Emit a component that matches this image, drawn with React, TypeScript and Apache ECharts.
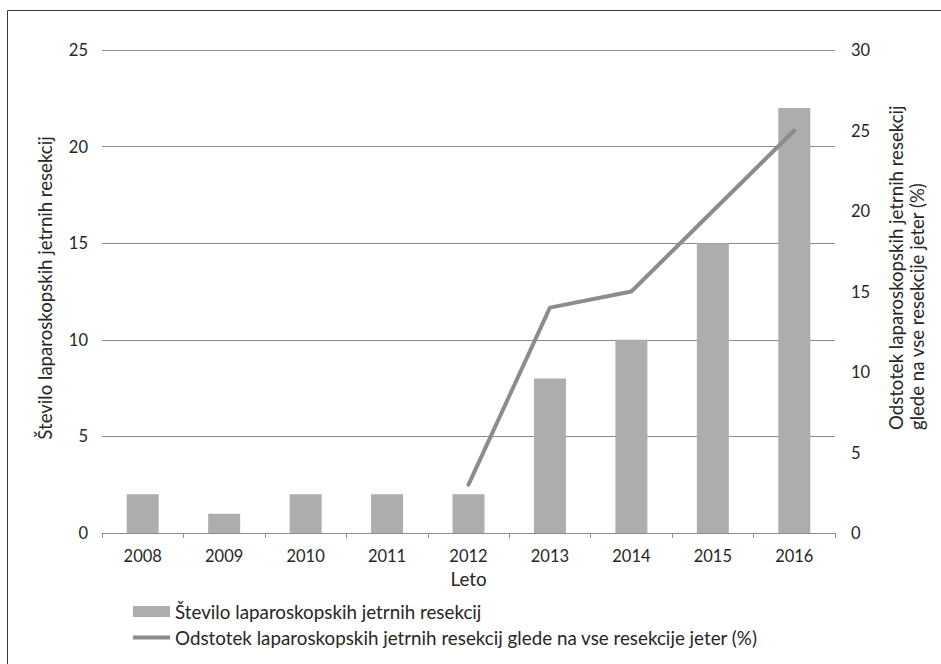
import React, { useEffect, useRef } from "react";
import * as echarts from "echarts";

const years = ["2008", "2009", "2010", "2011", "2012", "2013", "2014", "2015", "2016"];
const counts = [2, 1, 2, 2, 2, 8, 10, 15, 22];
const percents: (number | null)[] = [null, null, null, null, 3, 14, 15, 20, 25];
const barName = "Število laparoskopskih jetrnih resekcij";
const lineName = "Odstotek laparoskopskih jetrnih resekcij glede na vse resekcije jeter (%)";
const leftAxisName = "Število laparoskopskih jetrnih resekcij";
const rightAxisName = "Odstotek laparoskopskih jetrnih resekcij\nglede na vse resekcije jeter (%)";
const xAxisName = "Leto";

const FONT = "Lato";
const TEXT = "#262626";
const GRID = "#8c8c8c";
const TICK_SIZE = 16.5;
const NAME_SIZE = 18.6;
const LEGEND_SIZE = 18.8;

export default function App() {
  const ref = useRef<HTMLDivElement>(null);
  useEffect(() => {
    document.body.style.margin = "0";
    const chart = echarts.init(ref.current!, null, { renderer: "svg" });
    chart.setOption({
      animation: false,
      backgroundColor: "#fff",
      textStyle: { fontFamily: FONT, color: TEXT },
      graphic: [
        {
          type: "rect",
          shape: { x: 7.5, y: 10.5, width: 1200, height: 1200 },
          style: { fill: "none", stroke: "#3a3a3a", lineWidth: 1 },
          silent: true,
        },
        {
          type: "text",
          x: 45,
          y: 288,
          rotation: Math.PI / 2,
          style: {
            text: leftAxisName,
            fontFamily: FONT,
            fontSize: NAME_SIZE,
            fill: TEXT,
            align: "center",
            verticalAlign: "middle",
          },
        },
        {
          type: "text",
          x: 906,
          y: 430,
          rotation: Math.PI / 2,
          style: {
            text: rightAxisName,
            fontFamily: FONT,
            fontSize: NAME_SIZE,
            lineHeight: 21,
            fill: TEXT,
            align: "left",
            verticalAlign: "middle",
          },
        },
      ],
      grid: { left: 102, right: 106, top: 50, bottom: 131 },
      legend: {
        orient: "vertical",
        left: 128,
        top: 597,
        itemWidth: 37,
        itemHeight: 11,
        itemGap: 7,
        textStyle: { fontFamily: FONT, fontSize: LEGEND_SIZE, color: TEXT },
        data: [
          { name: barName, icon: "rect" },
          { name: lineName, icon: "path://M0,0 L37,0 L37,4 L0,4 Z" },
        ],
      },
      xAxis: {
        type: "category",
        data: years,
        name: xAxisName,
        nameLocation: "middle",
        nameGap: 35,
        nameTextStyle: { fontFamily: FONT, fontSize: LEGEND_SIZE, color: TEXT },
        axisLine: { lineStyle: { color: GRID, width: 1 } },
        axisTick: { show: true, length: 5, lineStyle: { color: GRID } },
        axisLabel: { fontFamily: FONT, fontSize: TICK_SIZE, color: TEXT, margin: 14 },
      },
      yAxis: [
        {
          type: "value",
          min: 0,
          max: 25,
          interval: 5,
          axisLine: { show: false },
          axisTick: { show: false },
          axisLabel: { fontFamily: FONT, fontSize: TICK_SIZE, color: TEXT, margin: 14 },
          splitLine: { lineStyle: { color: GRID, width: 1 } },
        },
        {
          type: "value",
          min: 0,
          max: 30,
          interval: 5,
          position: "right",
          axisLine: { show: false },
          axisTick: { show: false },
          axisLabel: { fontFamily: FONT, fontSize: TICK_SIZE, color: TEXT, margin: 16 },
          splitLine: { show: false },
        },
      ],
      series: [
        {
          name: barName,
          type: "bar",
          data: counts,
          barWidth: 32,
          itemStyle: { color: "#adadad" },
          yAxisIndex: 0,
        },
        {
          name: lineName,
          type: "line",
          data: percents,
          yAxisIndex: 1,
          symbol: "none",
          lineStyle: { color: "#8c8c8c", width: 4, cap: "round" },
          itemStyle: { color: "#8c8c8c" },
        },
      ],
    });
    return () => chart.dispose();
  }, []);
  return <div ref={ref} style={{ width: 941, height: 664 }} />;
}
